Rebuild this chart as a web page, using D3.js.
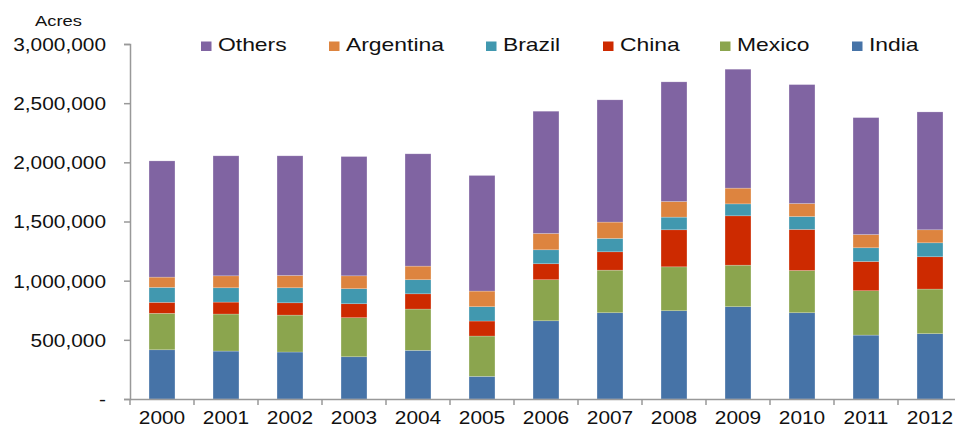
<!DOCTYPE html>
<html><head><meta charset="utf-8">
<script src="https://cdn.jsdelivr.net/npm/d3@7"></script>
<style>body{margin:0;background:#fff;} svg{display:block;font-family:"Liberation Sans",Arial,sans-serif;}</style>
</head><body>
<svg id="c" width="955" height="425"></svg>
<script>
const years = ["2000","2001","2002","2003","2004","2005","2006","2007","2008","2009","2010","2011","2012"];
const india     = [416000,405000,397000,357000,411000,191000,661000,729000,746000,780000,729000,540000,552000];
const mexico    = [308000,313000,312000,330000,349000,341000,347000,360000,371000,351000,357000,375000,377000];
const china     = [93000,101000,104000,118000,129000,127000,135000,155000,313000,417000,347000,247000,273000];
const brazil    = [126000,121000,127000,127000,119000,121000,118000,113000,107000,101000,109000,116000,118000];
const argentina = [87000,101000,104000,109000,115000,132000,138000,138000,132000,133000,110000,112000,110000];
const others    = [982000,1014000,1011000,1008000,949000,977000,1033000,1033000,1011000,1005000,1005000,988000,996000];
const yTicks = [0,500000,1000000,1500000,2000000,2500000,3000000];
const seriesNames = ["India","Mexico","China","Brazil","Argentina","Others"];
const legendOrder = ["Others","Argentina","Brazil","China","Mexico","India"];
const colors = {India:"#4673A7",Mexico:"#8BA54E",China:"#CD2A00",Brazil:"#4198AF",Argentina:"#DD843F",Others:"#8064A2"};

(function(){
const seriesData = {India:india,Mexico:mexico,China:china,Brazil:brazil,Argentina:argentina,Others:others};
const table = years.map((yr,i)=>{const o={year:yr}; seriesNames.forEach(s=>o[s]=seriesData[s][i]); return o;});
const stack = d3.stack().keys(seriesNames)(table);

function stretch(sel, f){
  sel.each(function(){
    const w = this.getComputedTextLength();
    this.setAttribute("textLength", (w*f).toFixed(2));
    this.setAttribute("lengthAdjust","spacingAndGlyphs");
  });
}

const svg = d3.select("#c");
const mLeft=130, mRight=962, mTop=44, mBottom=399;
const x = d3.scaleBand().domain(years).range([mLeft,mRight]).paddingInner(0.595).paddingOuter(0.2975);
const y = d3.scaleLinear().domain([0,3000000]).range([mBottom,mTop]);

svg.append("g").selectAll("g").data(stack).join("g").attr("fill",d=>colors[d.key])
  .selectAll("rect").data(d=>d).join("rect")
  .attr("x",d=>x(d.data.year)).attr("width",x.bandwidth())
  .attr("y",d=>y(d[1])).attr("height",d=>y(d[0])-y(d[1]))
  .attr("stroke","rgba(255,255,255,0.35)").attr("stroke-width",0.6);

const yAxis = d3.axisLeft(y).tickValues(yTicks).tickSize(6).tickPadding(18)
  .tickFormat(d=>d===0?"-":d3.format(",")(d));
const gy = svg.append("g").attr("transform",`translate(${mLeft},0)`).call(yAxis);
gy.select(".domain").attr("stroke","#999").attr("stroke-width",1.5);
gy.selectAll(".tick line").attr("stroke","#999").attr("stroke-width",1.5);
gy.selectAll(".tick text").attr("font-size","17.7px").attr("fill","#111")
  .attr("font-family","Liberation Sans, Arial, sans-serif").attr("dy","0.36em");
stretch(gy.selectAll(".tick text"), 1.18);

const xAxis = d3.axisBottom(x).tickSize(0).tickPadding(0);
const gx = svg.append("g").attr("transform",`translate(0,${mBottom})`).call(xAxis);
gx.select(".domain").attr("stroke","#999").attr("stroke-width",1.5);
gx.selectAll(".tick text").attr("font-size","17.7px").attr("fill","#111")
  .attr("font-family","Liberation Sans, Arial, sans-serif").attr("dy",null).attr("y",25);
stretch(gx.selectAll(".tick text"), 1.18);
const step = x.step();
const bounds = d3.range(years.length).map(i=>mLeft+i*step);
svg.append("g").selectAll("line").data(bounds).join("line")
  .attr("x1",d=>d).attr("x2",d=>d).attr("y1",mBottom).attr("y2",mBottom+6)
  .attr("stroke","#999").attr("stroke-width",1.5);

const acres = svg.append("text").attr("x",35).attr("y",25.5).attr("font-size","14.8px").attr("fill","#111").text("Acres");
stretch(acres, 1.24);

const legendX = [201,329,486,603,720,852];
const lg = svg.append("g").selectAll("g").data(legendOrder).join("g")
  .attr("transform",(d,i)=>`translate(${legendX[i]},41.5)`);
lg.append("rect").attr("width",10.5).attr("height",9.5).attr("fill",d=>colors[d]);
const lt = lg.append("text").attr("x",17).attr("y",9.5).attr("font-size","18.6px").attr("fill","#111").text(d=>d);
stretch(lt, 1.23);
})();
</script>
</body></html>
